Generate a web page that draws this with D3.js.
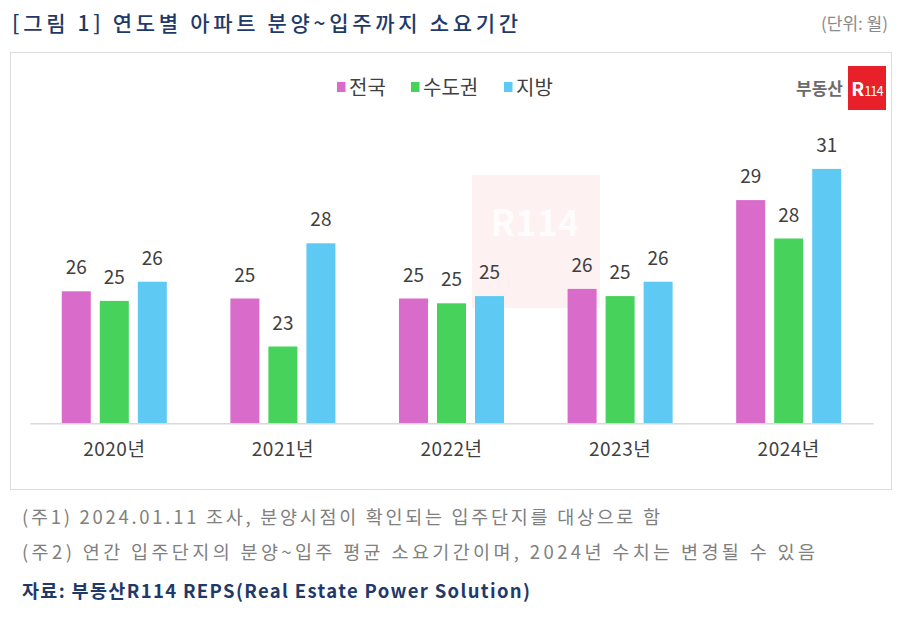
<!DOCTYPE html>
<html>
<head>
<meta charset="utf-8">
<script src="https://cdn.jsdelivr.net/npm/d3@7"></script>
<style>
  body { margin: 0; background: #fff; }
  svg { display: block; font-family: "Noto Sans CJK KR", "Noto Sans", sans-serif; }
</style>
</head>
<body>
<div id="chart"></div>
<script>
var years = ["2020년", "2021년", "2022년", "2023년", "2024년"];
var seriesNames = ["전국", "수도권", "지방"];
var nationwide = [25.6, 25.3, 25.3, 25.7, 29.4];
var capital = [25.2, 23.3, 25.1, 25.4, 27.8];
var regional = [26.0, 27.6, 25.4, 26.0, 30.7];
var colors = ["#d96bcb", "#47d35b", "#5ec9f2"];
var notes = [
    "(주1) 2024.01.11 조사, 분양시점이 확인되는 입주단지를 대상으로 함",
    "(주2) 연간 입주단지의 분양~입주 평균 소요기간이며, 2024년 수치는 변경될 수 있음"
];

function init() {
    var w = 900;
    var h = 621;
    var baseY = 423.3;

    var svg = d3.select("#chart")
        .append("svg")
        .attr("width", w)
        .attr("height", h);

    // title and unit
    svg.append("text")
        .attr("x", 12)
        .attr("y", 31)
        .attr("font-size", "21px")
        .attr("font-weight", 500)
        .attr("fill", "#1f3a68")
        .attr("textLength", 506)
        .attr("lengthAdjust", "spacing")
        .text("[그림 1] 연도별 아파트 분양~입주까지 소요기간");

    svg.append("text")
        .attr("x", 888)
        .attr("y", 30)
        .attr("text-anchor", "end")
        .attr("font-size", "17px")
        .attr("fill", "#8a8a8a")
        .text("(단위: 월)");

    // chart frame
    svg.append("rect")
        .attr("x", 10.5)
        .attr("y", 52.5)
        .attr("width", 881)
        .attr("height", 437)
        .attr("fill", "#fff")
        .attr("stroke", "#dcdcdc");

    // faint watermark
    svg.append("rect")
        .attr("x", 472)
        .attr("y", 175)
        .attr("width", 128)
        .attr("height", 133)
        .attr("fill", "#e8101a")
        .attr("opacity", 0.06);
    svg.append("text")
        .attr("x", 535)
        .attr("y", 236)
        .attr("text-anchor", "middle")
        .attr("font-size", "36px")
        .attr("font-weight", 700)
        .attr("fill", "#fff")
        .attr("opacity", 0.8)
        .text("R114");

    // logo top right
    svg.append("text")
        .attr("x", 843)
        .attr("y", 95)
        .attr("text-anchor", "end")
        .attr("font-size", "17px")
        .attr("font-weight", 700)
        .attr("fill", "#6b6b6b")
        .text("부동산");
    svg.append("rect")
        .attr("x", 848)
        .attr("y", 66)
        .attr("width", 38)
        .attr("height", 44)
        .attr("fill", "#e8202a");
    var logo = svg.append("text")
        .attr("x", 867)
        .attr("y", 96)
        .attr("text-anchor", "middle")
        .attr("fill", "#fff");
    logo.append("tspan")
        .attr("font-size", "19px")
        .attr("font-weight", 700)
        .text("R");
    logo.append("tspan")
        .attr("font-size", "13px")
        .attr("font-weight", 400)
        .attr("letter-spacing", "-1px")
        .text("114");

    // scales
    var x0 = d3.scaleBand()
        .domain(years)
        .range([30, 873])
        .paddingInner(0.377)
        .paddingOuter(0.1885);

    var x1 = d3.scaleBand()
        .domain(seriesNames)
        .range([0, x0.bandwidth()])
        .paddingInner(0.237);

    var yScale = d3.scaleLinear()
        .domain([20.1, 31])
        .range([baseY, baseY - 10.9 * 24]);

    var series = [nationwide, capital, regional];
    var rows = [];
    years.forEach(function(yr, i) {
        seriesNames.forEach(function(s, j) {
            rows.push({ year: yr, name: s, value: series[j][i], color: colors[j] });
        });
    });

    // bars
    svg.append("g")
        .selectAll("rect")
        .data(rows)
        .enter()
        .append("rect")
        .attr("x", function(d) { return x0(d.year) + x1(d.name); })
        .attr("y", function(d) { return yScale(d.value); })
        .attr("width", x1.bandwidth())
        .attr("height", function(d) { return baseY - yScale(d.value); })
        .attr("fill", function(d) { return d.color; });

    // value labels
    svg.append("g")
        .selectAll("text")
        .data(rows)
        .enter()
        .append("text")
        .attr("x", function(d) { return x0(d.year) + x1(d.name) + x1.bandwidth() / 2; })
        .attr("y", function(d) { return yScale(d.value) - 17; })
        .attr("text-anchor", "middle")
        .attr("font-size", "19px")
        .attr("fill", "#404040")
        .text(function(d) { return d3.format(".0f")(d.value); });

    // x axis
    var xAxis = d3.axisBottom(x0).tickSize(0).tickPadding(18);
    var gx = svg.append("g")
        .attr("transform", "translate(0," + baseY + ")")
        .call(xAxis);
    gx.select(".domain").attr("stroke", "#d9d9d9").attr("stroke-width", 1.5);
    gx.selectAll("text")
        .attr("font-family", "\"Noto Sans CJK KR\", sans-serif")
        .attr("font-size", "19px")
        .attr("letter-spacing", "0.5px")
        .attr("fill", "#404040")
        .attr("dy", "0.75em");

    // legend
    var legendX = [337, 411, 504];
    var legend = svg.append("g")
        .selectAll("g")
        .data(seriesNames)
        .enter()
        .append("g")
        .attr("transform", function(d, i) { return "translate(" + legendX[i] + ",87)"; });
    legend.append("rect")
        .attr("x", 0)
        .attr("y", -5)
        .attr("width", 8.5)
        .attr("height", 10)
        .attr("fill", function(d, i) { return colors[i]; });
    legend.append("text")
        .attr("x", 12)
        .attr("y", 7.5)
        .attr("font-size", "20px")
        .attr("fill", "#404040")
        .text(function(d) { return d; });

    // notes
    var noteLen = [638, 793];
    svg.append("g")
        .selectAll("text")
        .data(notes)
        .enter()
        .append("text")
        .attr("x", 22)
        .attr("y", function(d, i) { return 524 + i * 35; })
        .attr("font-size", "18.5px")
        .attr("fill", "#808080")
        .attr("textLength", function(d, i) { return noteLen[i]; })
        .attr("lengthAdjust", "spacing")
        .text(function(d) { return d; });

    svg.append("text")
        .attr("x", 22)
        .attr("y", 598)
        .attr("font-size", "18.5px")
        .attr("font-weight", 700)
        .attr("fill", "#1f3a68")
        .attr("textLength", 508)
        .attr("lengthAdjust", "spacing")
        .text("자료: 부동산R114 REPS(Real Estate Power Solution)");
}
window.onload = init;
</script>
</body>
</html>
